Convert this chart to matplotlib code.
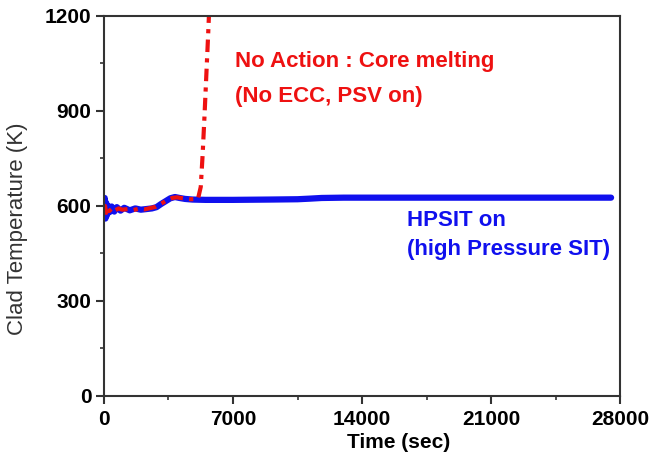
import numpy as np
import matplotlib.pyplot as plt

plt.rcParams['font.family'] = ['Liberation Sans', 'DejaVu Sans']

# HPSIT on (blue)
t_hpsit = [0, 40, 80, 120, 160, 220, 300, 420, 560, 700, 900, 1100, 1400, 1700, 2000,
           2300, 2600, 2850, 3100, 3350, 3600, 3850, 4100, 4400, 4800, 5500, 7000,
           9000, 10500, 11200, 11800, 13000, 16000, 20000, 24000, 27500]
T_hpsit = [575, 625, 560, 610, 570, 600, 580, 598, 582, 596, 585, 594, 586, 592, 588,
           590, 592, 596, 606, 615, 624, 628, 625, 622, 620, 619, 619,
           620, 621, 623, 625, 626, 626, 626, 626, 626]

# No action (red)
t_noact = [0, 60, 120, 200, 300, 450, 600, 800, 1000, 1300, 1600, 1900, 2200, 2500,
           2800, 3100, 3400, 3700, 3950, 4300, 4700, 5100, 5250, 5350, 5450, 5550,
           5650, 5750]
T_noact = [590, 600, 578, 596, 584, 594, 586, 592, 588, 590, 587, 591, 589, 593,
           597, 607, 617, 625, 627, 624, 621, 622, 660, 760, 880, 1010, 1140, 1280]

fig = plt.figure(figsize=(6.62, 4.54), dpi=100)
ax = fig.add_axes([0.157, 0.128, 0.780, 0.837])

ax.plot(t_hpsit, T_hpsit, color='#1010ee', lw=4.5, solid_capstyle='round')
ax.plot(t_noact, T_noact, color='#ee1111', lw=3, linestyle=(0, (3, 1.5, 1, 1.5)))

ax.set_xlim(0, 28000)
ax.set_ylim(0, 1200)
ax.set_xticks([0, 7000, 14000, 21000, 28000])
ax.set_yticks([0, 300, 600, 900, 1200])
ax.set_xticks([3500, 10500, 17500, 24500], minor=True)
ax.set_yticks([150, 450, 750, 1050], minor=True)
ax.tick_params(which='major', direction='out', length=6, width=1.5, labelsize=15, color='#333333')
ax.tick_params(axis='x', which='major', pad=4)
ax.tick_params(axis='y', which='major', pad=3)
ax.tick_params(which='minor', direction='out', length=3, width=1.2, color='#333333')
for lbl in ax.get_xticklabels() + ax.get_yticklabels():
    lbl.set_fontweight('bold')
for s in ax.spines.values():
    s.set_linewidth(1.5)
    s.set_color('#333333')

ax.set_ylabel('Clad Temperature (K)', fontsize=16, color='#333333', va='center')
ax.yaxis.set_label_coords(-0.168, 0.44)
ax.set_xlabel('Time (sec)', fontsize=15, fontweight='bold', va='center')
ax.xaxis.set_label_coords(0.57, -0.122)

ax.text(7100, 1055, 'No Action : Core melting', color='#ee1111', fontsize=16,
        fontweight='bold', va='center')
ax.text(7100, 944, '(No ECC, PSV on)', color='#ee1111', fontsize=16,
        fontweight='bold', va='center')
ax.text(16440, 553, 'HPSIT on', color='#1010ee', fontsize=16,
        fontweight='bold', va='center')
ax.text(16440, 461, '(high Pressure SIT)', color='#1010ee', fontsize=16,
        fontweight='bold', va='center')

fig.savefig('out.png', dpi=100)
